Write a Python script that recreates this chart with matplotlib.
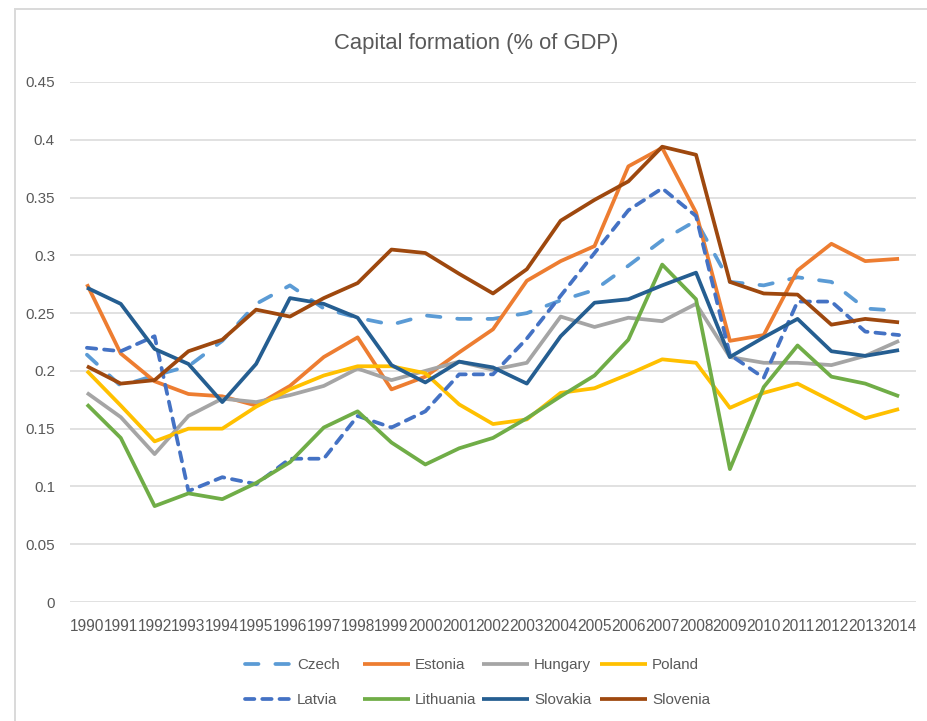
import matplotlib
matplotlib.use("Agg")
import matplotlib.pyplot as plt
from matplotlib.lines import Line2D
from matplotlib.patches import Rectangle
from matplotlib.ticker import FuncFormatter

years = [str(y) for y in range(1990, 2015)]

czech = [0.214, 0.187, 0.196, 0.204, 0.226, 0.258, 0.274, 0.254, 0.246, 0.240, 0.248, 0.245, 0.245, 0.250,
         0.261, 0.270, 0.291, 0.313, 0.330, 0.277, 0.274, 0.281, 0.277, 0.254, 0.252]
estonia = [0.275, 0.215, 0.191, 0.180, 0.178, 0.170, 0.187, 0.212, 0.229, 0.184, 0.195, 0.216, 0.236, 0.278,
           0.295, 0.308, 0.377, 0.393, 0.337, 0.226, 0.231, 0.287, 0.310, 0.295, 0.297]
hungary = [0.181, 0.160, 0.128, 0.161, 0.176, 0.173, 0.179, 0.187, 0.202, 0.192, 0.200, 0.208, 0.201, 0.207,
           0.247, 0.238, 0.246, 0.243, 0.258, 0.212, 0.207, 0.207, 0.205, 0.213, 0.226]
poland = [0.200, 0.170, 0.139, 0.150, 0.150, 0.169, 0.184, 0.196, 0.204, 0.204, 0.198, 0.171, 0.154, 0.158,
          0.181, 0.185, 0.197, 0.210, 0.207, 0.168, 0.181, 0.189, 0.174, 0.159, 0.167]
latvia = [0.220, 0.217, 0.230, 0.096, 0.108, 0.102, 0.124, 0.124, 0.161, 0.151, 0.165, 0.197, 0.197, 0.228,
          0.265, 0.302, 0.339, 0.358, 0.334, 0.214, 0.194, 0.260, 0.260, 0.234, 0.231]
lithuania = [0.171, 0.142, 0.083, 0.094, 0.089, 0.103, 0.121, 0.151, 0.165, 0.138, 0.119, 0.133, 0.142, 0.159,
             0.178, 0.196, 0.227, 0.292, 0.262, 0.115, 0.186, 0.222, 0.195, 0.189, 0.178]
slovakia = [0.272, 0.258, 0.219, 0.206, 0.173, 0.206, 0.263, 0.258, 0.246, 0.205, 0.190, 0.208, 0.203, 0.189,
            0.230, 0.259, 0.262, 0.274, 0.285, 0.212, 0.229, 0.245, 0.217, 0.213, 0.218]
slovenia = [0.204, 0.189, 0.192, 0.217, 0.227, 0.253, 0.247, 0.263, 0.276, 0.305, 0.302, 0.284, 0.267, 0.288,
            0.330, 0.348, 0.364, 0.394, 0.387, 0.277, 0.267, 0.266, 0.240, 0.245, 0.242]

names = ["Czech", "Estonia", "Hungary", "Poland", "Latvia", "Lithuania", "Slovakia", "Slovenia"]
series = [czech, estonia, hungary, poland, latvia, lithuania, slovakia, slovenia]
colors = ["#5B9BD5", "#ED7D31", "#A5A5A5", "#FFC000", "#4472C4", "#70AD47", "#255E91", "#9E480E"]
dashes = {"Czech": (3.6, 4.5), "Latvia": (2.5, 2.1)}

plt.rcParams['font.family'] = ['Liberation Sans', 'DejaVu Sans']
W, H = 928, 721
fig = plt.figure(figsize=(W / 100, H / 100), dpi=100)
fig.patch.set_facecolor("white")

# chart border (left and top visible)
fig.add_artist(Rectangle((15 / W, -0.1), 1.2, 1 - 9 / H + 0.1, transform=fig.transFigure,
                         fill=False, edgecolor="#D9D9D9", linewidth=1.4))

ax = fig.add_axes([70 / W, 1 - 602 / H, (916 - 70) / W, (602 - 82) / H])
lw = 2.7
x = list(range(len(years)))
for name, vals, c in zip(names, series, colors):
    if name in dashes:
        ax.plot(x, vals, color=c, lw=lw, dashes=dashes[name], dash_capstyle="round",
                solid_joinstyle="round", label=name)
    else:
        ax.plot(x, vals, color=c, lw=lw, solid_joinstyle="round", solid_capstyle="butt", label=name)

ax.set_xlim(-0.5, len(years) - 0.5)
ax.set_ylim(0, 0.45)
ax.set_yticks([i * 0.05 for i in range(10)])
ax.yaxis.set_major_formatter(FuncFormatter(lambda v, p: f"{round(v, 2):g}"))
ax.set_xticks(x)
ax.set_xticklabels(years)
ax.grid(axis="y", color="#D9D9D9", linewidth=1.1)
ax.set_axisbelow(True)
for s in ax.spines.values():
    s.set_visible(False)
ax.tick_params(axis="both", length=0, labelsize=10.9, labelcolor="#595959")
ax.tick_params(axis="x", labelsize=11.2, pad=12)
ax.tick_params(axis="y", pad=10.8)

fig.text(476 / W, 1 - 43 / H, "Capital formation (% of GDP)", ha="center", va="center",
         fontsize=15.8, color="#595959")

col_x = [245, 363, 482, 600]
for i, cx in enumerate(col_x):
    hs = []
    for j in (i, i + 4):
        name = names[j]
        if name in dashes:
            h = Line2D([], [], color=colors[j], lw=lw, dashes=dashes[name], dash_capstyle="round")
        else:
            h = Line2D([], [], color=colors[j], lw=lw, solid_capstyle="butt")
        hs.append(h)
    leg = fig.legend(handles=hs, labels=[names[i], names[i + 4]], loc="upper left",
                     bbox_to_anchor=(cx / W, 1 - 658 / H), frameon=False, borderpad=0,
                     borderaxespad=0, handlelength=3.1, handletextpad=0.35,
                     labelspacing=1.42, fontsize=10.9)
    for t in leg.get_texts():
        t.set_color("#595959")

fig.savefig("out.png", dpi=100, facecolor="white")
